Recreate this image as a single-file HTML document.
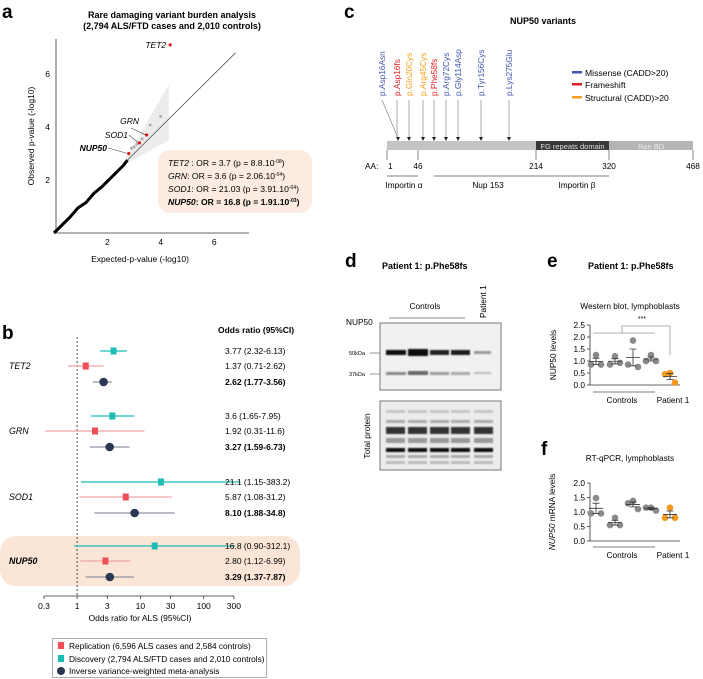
<!DOCTYPE html>
<html><head><meta charset="utf-8">
<style>
html,body{margin:0;padding:0;background:#fff;}
svg{display:block;font-family:"Liberation Sans",Arial,sans-serif;}
</style></head>
<body>
<svg id="fig" width="703" height="679" viewBox="0 0 703 679" xmlns="http://www.w3.org/2000/svg">
<!-- Panel a static -->
<text x="2" y="18" font-size="19" font-weight="bold">a</text>
<text x="172" y="18" font-size="9" font-weight="bold" text-anchor="middle">Rare damaging variant burden analysis</text>
<text x="172" y="29" font-size="9" font-weight="bold" text-anchor="middle">(2,794 ALS/FTD cases and 2,010 controls)</text>
<g id="qq"></g>
<rect x="158" y="150" width="154" height="63" rx="12" fill="#fbebe0"/>
<g font-size="8.6">
<text x="168" y="166"><tspan font-style="italic">TET2</tspan> : OR = 3.7 (p = 8.8.10<tspan font-size="5" dy="-3">-08</tspan><tspan dy="3">)</tspan></text>
<text x="168" y="179"><tspan font-style="italic">GRN</tspan>: OR = 3.6 (p = 2.06.10<tspan font-size="5" dy="-3">-04</tspan><tspan dy="3">)</tspan></text>
<text x="168" y="192"><tspan font-style="italic">SOD1</tspan>: OR = 21.03 (p = 3.91.10<tspan font-size="5" dy="-3">-04</tspan><tspan dy="3">)</tspan></text>
<text x="168" y="205" font-weight="bold"><tspan font-style="italic">NUP50</tspan>: OR = 16.8 (p = 1.91.10<tspan font-size="5" dy="-3">-03</tspan><tspan dy="3">)</tspan></text>
</g>
<text x="140" y="262" font-size="8.5" text-anchor="middle">Expected-p-value (-log10)</text>
<text transform="translate(34,136) rotate(-90)" font-size="8.5" text-anchor="middle">Observed p-value (-log10)</text>

<!-- Panel b -->
<text x="2" y="339" font-size="19" font-weight="bold">b</text>
<rect x="0" y="536" width="300" height="50" rx="16" fill="#fbe5d6"/>
<text x="218" y="333" font-size="8.5" font-weight="bold">Odds ratio (95%CI)</text>
<g id="forest"></g>
<text x="140" y="621" font-size="8.5" text-anchor="middle">Odds ratio for ALS (95%CI)</text>
<g>
<rect x="52.5" y="638.5" width="214" height="39" fill="#fff" stroke="#999" stroke-width="0.8"/>
<rect x="58" y="642" width="6" height="7" fill="#f04e57"/>
<text x="69" y="649" font-size="8.3">Replication (6,596 ALS cases and 2,584 controls)</text>
<rect x="58" y="655" width="6" height="7" fill="#1bbdb6"/>
<text x="69" y="662" font-size="8.3">Discovery (2,794 ALS/FTD cases and 2,010 controls)</text>
<circle cx="61" cy="671" r="4" fill="#2b3853"/>
<text x="69" y="674" font-size="8.3">Inverse variance-weighted meta-analysis</text>
</g>

<!-- Panel c -->
<text x="344" y="18" font-size="19" font-weight="bold">c</text>
<text x="543" y="24" font-size="9" font-weight="bold" text-anchor="middle">NUP50 variants</text>
<g id="lollipop"></g>
<g font-size="8.6">
<rect x="572" y="71" width="10" height="2.5" fill="#4256b0"/><text x="585" y="76">Missense (CADD&gt;20)</text>
<rect x="572" y="83" width="10" height="2.5" fill="#e02020"/><text x="585" y="88">Frameshift</text>
<rect x="572" y="96" width="10" height="2.5" fill="#f5a01a"/><text x="585" y="101">Structural (CADD)&gt;20</text>
</g>

<!-- Panel d -->
<text x="345" y="267" font-size="19" font-weight="bold">d</text>
<text x="382" y="269" font-size="9" font-weight="bold">Patient 1: p.Phe58fs</text>
<text x="425" y="309" font-size="8.3" text-anchor="middle">Controls</text>
<line x1="389" y1="318" x2="465" y2="318" stroke="#888" stroke-width="1"/>
<text transform="translate(486,318) rotate(-90)" font-size="8.3">Patient 1</text>
<text x="346" y="325" font-size="8.3">NUP50</text>
<text x="349" y="355" font-size="5.5">50kDa</text>
<text x="349" y="376" font-size="5.5">37kDa</text>
<line x1="370" y1="353" x2="380" y2="353" stroke="#555" stroke-width="0.6"/>
<line x1="370" y1="374" x2="380" y2="374" stroke="#555" stroke-width="0.6"/>
<defs>
<filter id="blur1"><feGaussianBlur stdDeviation="0.9"/></filter>
</defs>
<g>
<rect x="380" y="323" width="121" height="67" fill="#f1f1f1" stroke="#777" stroke-width="1"/>
<g filter="url(#blur1)">
<rect x="386" y="350" width="20" height="5" fill="#111"/>
<rect x="408" y="349" width="20" height="7" fill="#0a0a0a"/>
<rect x="430" y="350" width="19" height="5" fill="#222"/>
<rect x="451" y="350" width="19" height="5" fill="#1a1a1a"/>
<rect x="474" y="351" width="17" height="3" fill="#999"/>
<rect x="386" y="372" width="20" height="3" fill="#888"/>
<rect x="408" y="371" width="20" height="4" fill="#666"/>
<rect x="430" y="372" width="19" height="3" fill="#999"/>
<rect x="451" y="372" width="19" height="3" fill="#aaa"/>
<rect x="474" y="372" width="17" height="2" fill="#bbb"/>
</g>
</g>
<g>
<rect x="380" y="401" width="121" height="69" fill="#ececec" stroke="#777" stroke-width="1"/>
<g filter="url(#blur1)" id="tp"></g>
</g>
<text transform="translate(370,436) rotate(-90)" font-size="8.3" text-anchor="middle">Total protein</text>

<!-- Panel e, f -->
<text x="547" y="267" font-size="19" font-weight="bold">e</text>
<text x="588" y="269" font-size="9" font-weight="bold">Patient 1: p.Phe58fs</text>
<text x="630" y="309" font-size="8.3" text-anchor="middle">Western blot, lymphoblasts</text>
<text x="541" y="455" font-size="19" font-weight="bold">f</text>
<text x="630" y="461" font-size="8.3" text-anchor="middle">RT-qPCR, lymphoblasts</text>
<g id="dotE"></g>
<g id="dotF"></g>
<g stroke="#999" stroke-width="0.8" fill="none">
<polyline points="593,333 655,333"/>
<polyline points="622,333 622,326 670,326 670,355"/>
</g>
<text x="642" y="321" font-size="7" text-anchor="middle">***</text>
<text transform="translate(556,355) rotate(-90)" font-size="8.3" text-anchor="middle">NUP50 levels</text>
<text transform="translate(555,512) rotate(-90)" font-size="8.3" text-anchor="middle"><tspan font-style="italic">NUP50</tspan> mRNA levels</text>
</svg>

<script>
var NS = "http://www.w3.org/2000/svg";
function mk(parent, tag, attrs, txt) {
  var e = document.createElementNS(NS, tag);
  for (var k in attrs) e.setAttribute(k, attrs[k]);
  if (txt !== undefined) e.textContent = txt;
  parent.appendChild(e);
  return e;
}

/* total protein lanes (decorative) */
(function () {
  var g = document.getElementById("tp");
  var lanes = [386, 408, 430, 451, 474];
  var bands = [[410, 3, "#c4c4c4"], [420, 3, "#aaa"], [427, 7, "#333"], [438, 5, "#999"], [448, 4, "#111"], [455, 3, "#aaa"], [461, 3, "#bbb"]];
  lanes.forEach(function (x) {
    bands.forEach(function (b) {
      var r = mk(g, "rect", { x: x, y: b[0], width: 19, height: b[1], fill: b[2] });
      
      
    });
  });
})();

/* ---------- Panel a data ---------- */
var qqTicks = [2, 4, 6];
var qqTrailExp = [0, 0.3, 0.6, 0.9, 1.2, 1.5, 1.8, 2.1, 2.4, 2.6, 2.75];
var qqTrailObs = [0, 0.3, 0.6, 0.95, 1.15, 1.5, 1.75, 2.05, 2.35, 2.55, 2.75];
var qqGreyExp = [2.9, 3.0, 3.1, 3.3, 3.6, 3.99];
var qqGreyObs = [3.2, 3.25, 3.35, 3.55, 4.07, 4.4];
var qqGenes = ["TET2", "GRN", "SOD1", "NUP50"];
var qqGeneExp = [4.35, 3.47, 3.2, 2.8];
var qqGeneObs = [7.1, 3.7, 3.4, 3.0];

function qx(v) { return 54 + v * 26.7; }
function qy(v) { return 233 - v * 26.5; }
(function () {
  var g = document.getElementById("qq");
  var band = mk(g, "polygon", { points: qx(2.5)+","+qy(2.5)+" "+qx(4.3)+","+qy(5.6)+" "+qx(4.3)+","+qy(3.5), fill: "#ececec" });
  
  
  var diag = mk(g, "line", { x1: qx(0), y1: qy(0), x2: qx(6.8), y2: qy(6.8), stroke: "#555", "stroke-width": 0.8 });
  
  
  var ax = mk(g, "path", { d: "M56,39V233H249", stroke: "#333", fill: "none", "stroke-width": 0.8 });
  
  
  qqTicks.forEach(function (t) {
    var tx = mk(g, "text", { x: qx(t), y: 245, "font-size": 8.5, "text-anchor": "middle" }, t);
    
    
    var ty = mk(g, "text", { x: 50, y: qy(t) + 3, "font-size": 8.5, "text-anchor": "end" }, t);
    
    
  });
  var pts = qqTrailExp.map(function (v, i) { return qx(v) + "," + qy(qqTrailObs[i]); }).join(" ");
  var trail = mk(g, "polyline", { points: pts, stroke: "#000", "stroke-width": 3, fill: "none" });
  
  
  qqGreyExp.forEach(function (v, i) {
    var c = mk(g, "circle", { cx: qx(v), cy: qy(qqGreyObs[i]), r: 1.4, fill: "#aaa" });
    
    
  });
  var labelPos = [[null], [139, 124], [128, 138], [107, 151]];
  qqGenes.forEach(function (n, i) {
    var cx = qx(qqGeneExp[i]), cy = qy(qqGeneObs[i]);
    var c = mk(g, "circle", { cx: cx, cy: cy, r: 1.6, fill: "#e01a1a" });
    
    
    var t;
    if (i === 0) {
      t = mk(g, "text", { x: cx - 4, y: cy + 3, "font-size": 8.5, "font-style": "italic", "text-anchor": "end" }, n);
    } else {
      var lp = labelPos[i];
      t = mk(g, "text", { x: lp[0], y: lp[1], "font-size": 8.5, "font-style": "italic", "font-weight": i === 3 ? "bold" : "normal", "text-anchor": "end" }, n);
      var l = mk(g, "line", { x1: lp[0] + (i === 1 ? -8 : 1), y1: lp[1] + (i === 1 ? 4 : -3), x2: cx - 1, y2: cy, stroke: "#444", "stroke-width": 0.6 });
      
      
    }
    
    
  });
})();

/* ---------- Panel b data ---------- */
var forestGenes = ["TET2", "GRN", "SOD1", "NUP50"];
var discOR = [3.77, 3.6, 21.1, 16.8];
var discLo = [2.32, 1.65, 1.15, 0.90];
var discHi = [6.13, 7.95, 383.2, 312.1];
var repOR = [1.37, 1.92, 5.87, 2.80];
var repLo = [0.71, 0.31, 1.08, 1.12];
var repHi = [2.62, 11.6, 31.2, 6.99];
var metaOR = [2.62, 3.27, 8.10, 3.29];
var metaLo = [1.77, 1.59, 1.88, 1.37];
var metaHi = [3.56, 6.73, 34.8, 7.87];
var discLabels = ["3.77 (2.32-6.13)", "3.6 (1.65-7.95)", "21.1 (1.15-383.2)", "16.8 (0.90-312.1)"];
var repLabels = ["1.37 (0.71-2.62)", "1.92 (0.31-11.6)", "5.87 (1.08-31.2)", "2.80 (1.12-6.99)"];
var metaLabels = ["2.62 (1.77-3.56)", "3.27 (1.59-6.73)", "8.10 (1.88-34.8)", "3.29 (1.37-7.87)"];
var forestTicks = [0.3, 1, 3, 10, 30, 100, 300];

function fx(v) { return 44 + (Math.log10(v) - Math.log10(0.3)) * 63.3; }
(function () {
  var g = document.getElementById("forest");
  var rowTop = [351, 416, 482, 546];
  var dash = mk(g, "line", { x1: fx(1), y1: 337, x2: fx(1), y2: 596, stroke: "#222", "stroke-width": 0.8, "stroke-dasharray": "2,2" });
  
  
  var ax = mk(g, "line", { x1: fx(0.3), y1: 596, x2: fx(300), y2: 596, stroke: "#333", "stroke-width": 0.8 });
  
  
  forestTicks.forEach(function (t) {
    var tk = mk(g, "line", { x1: fx(t), y1: 596, x2: fx(t), y2: 599, stroke: "#333", "stroke-width": 0.8 });
    
    
    var tl = mk(g, "text", { x: fx(t), y: 609, "font-size": 8.5, "text-anchor": "middle" }, t);
    
    
  });
  forestGenes.forEach(function (n, i) {
    var y0 = rowTop[i], y1 = y0 + 15, y2 = y0 + 31;
    var gl = mk(g, "text", { x: 9, y: y1 + 3, "font-size": 8.8, "font-style": "italic", "font-weight": n === "NUP50" ? "bold" : "normal" }, n);
    
    
    var l1 = mk(g, "line", { x1: fx(discLo[i]), y1: y0, x2: fx(discHi[i]), y2: y0, stroke: "#1bbdb6", "stroke-width": 1.3 });
    
    
    var m1 = mk(g, "rect", { x: fx(discOR[i]) - 3, y: y0 - 3.5, width: 6, height: 7, fill: "#1bbdb6" });
    
    
    var l2 = mk(g, "line", { x1: fx(repLo[i]), y1: y1, x2: fx(repHi[i]), y2: y1, stroke: "#f5a3a7", "stroke-width": 1.3 });
    
    
    var m2 = mk(g, "rect", { x: fx(repOR[i]) - 3, y: y1 - 3.5, width: 6, height: 7, fill: "#f04e57" });
    
    
    var l3 = mk(g, "line", { x1: fx(metaLo[i]), y1: y2, x2: fx(metaHi[i]), y2: y2, stroke: "#8f95a3", "stroke-width": 1.3 });
    
    
    var m3 = mk(g, "circle", { cx: fx(metaOR[i]), cy: y2, r: 4.3, fill: "#2b3853" });
    
    
    var t1 = mk(g, "text", { x: 225, y: y0 + 3, "font-size": 8.5 }, discLabels[i]);
    
    
    var t2 = mk(g, "text", { x: 225, y: y1 + 3, "font-size": 8.5 }, repLabels[i]);
    
    
    var t3 = mk(g, "text", { x: 225, y: y2 + 3, "font-size": 8.5, "font-weight": "bold" }, metaLabels[i]);
    
    
  });
})();

/* ---------- Panel c data ---------- */
var aaTicks = [1, 46, 214, 320, 468];
var variantNames = ["p.Asp16Asn", "p.Asp16fs", "p.Gln20Cys", "p.Arg45Cys", "p.Phe58fs", "p.Arg72Cys", "p.Gly114Asp", "p.Tyr156Cys", "p.Lys275Glu"];
var variantAA = [16, 16, 20, 45, 58, 72, 114, 156, 275];
var variantType = ["missense", "frameshift", "structural", "structural", "frameshift", "missense", "missense", "missense", "missense"];

var aaPix = [387, 418, 536, 609, 693];
function ax_(aa) {
  for (var i = 0; i < aaTicks.length - 1; i++) {
    if (aa <= aaTicks[i + 1]) {
      return aaPix[i] + (aa - aaTicks[i]) / (aaTicks[i + 1] - aaTicks[i]) * (aaPix[i + 1] - aaPix[i]);
    }
  }
  return aaPix[aaPix.length - 1];
}
(function () {
  var g = document.getElementById("lollipop");
  var col = { missense: "#4256b0", frameshift: "#e02020", structural: "#f5a01a" };
  var bar = mk(g, "rect", { x: ax_(1), y: 141, width: ax_(468) - ax_(1), height: 9, fill: "#c4c4c4" });
  
  
  var fg = mk(g, "rect", { x: ax_(214), y: 141, width: ax_(320) - ax_(214), height: 9, fill: "#3a3a3a" });
  
  
  var ft = mk(g, "text", { x: (ax_(214) + ax_(320)) / 2, y: 149, "font-size": 7.5, fill: "#ddd", "text-anchor": "middle" }, "FG repeats domain");
  
  
  var rb = mk(g, "rect", { x: ax_(320), y: 141, width: ax_(468) - ax_(320), height: 9, fill: "#b5b5b5" });
  
  
  var rt = mk(g, "text", { x: (ax_(320) + ax_(468)) / 2, y: 149, "font-size": 7.5, fill: "#eee", "text-anchor": "middle" }, "Ran BD");
  
  
  var aal = mk(g, "text", { x: 365, y: 169, "font-size": 8.3 }, "AA:");
  
  
  aaTicks.forEach(function (a) {
    var tk = mk(g, "line", { x1: ax_(a), y1: 150, x2: ax_(a), y2: 160, stroke: "#555", "stroke-width": 0.7 });
    
    
    var tl = mk(g, "text", { x: ax_(a) + (a === 1 ? 1 : 0), y: 169, "font-size": 8.3, "text-anchor": a === 1 ? "start" : "middle" }, a);
    
    
  });
  var segs = [[387, 418, "Importin α", 404], [434, 536, "Nup 153", 488], [536, 609, "Importin β", 577]];
  segs.forEach(function (s) {
    var l = mk(g, "line", { x1: s[0], y1: 176, x2: s[1], y2: 176, stroke: "#555", "stroke-width": 0.7 });
    
    
    var t = mk(g, "text", { x: s[3], y: 188, "font-size": 8.3, "text-anchor": "middle" }, s[2]);
    
    
  });
  /* schematic: label columns evenly stacked; arrows drop straight down except duplicated positions */
  var labX = [382, 397, 409, 423, 434, 446, 458, 481, 509];
  var seen = {};
  variantNames.forEach(function (n, i) {
    var lx = labX[i];
    var px = lx;
    var firstIdx = variantAA.indexOf(variantAA[i]);
    if (firstIdx !== i) px = labX[i];
    else if (variantAA.lastIndexOf(variantAA[i]) !== i) px = labX[variantAA.lastIndexOf(variantAA[i])] + 1;
    var t = mk(g, "text", { transform: "translate(" + (lx + 3) + ",96) rotate(-90)", "font-size": 8.3, fill: col[variantType[i]] }, n);
    
    
    var ln = mk(g, "line", { x1: lx, y1: 100, x2: px, y2: 138, stroke: "#777", "stroke-width": 0.6 });
    
    
    if (!seen[variantAA[i]]) {
      seen[variantAA[i]] = 1;
      var h = mk(g, "polygon", { points: (px - 2) + ",137 " + (px + 2) + ",137 " + px + ",141", fill: "#222" });
      
      
    }
  });
})();

/* ---------- Panel e/f data ---------- */
var groupNames = ["Control 1", "Control 2", "Control 3", "Control 4", "Patient 1"];
var wbValues = [[1.25, 0.85, 0.85], [1.2, 0.85, 0.92], [1.85, 0.85, 0.75], [1.25, 1.0, 1.0], [0.5, 0.45, 0.1]];
var qpcrValues = [[1.48, 0.95, 0.95], [0.8, 0.55, 0.55], [1.38, 1.3, 1.1], [1.15, 1.15, 1.05], [1.15, 0.8, 0.8]];
var wbTicks = [0.0, 0.5, 1.0, 1.5, 2.0, 2.5];
var qpcrTicks = [0.0, 0.5, 1.0, 1.5, 2.0];

var groupX = [596, 615, 633, 651, 670];
function dotPlot(id, vals, ticks, y0, pxPerUnit, ctlY, name) {
  var g = document.getElementById(id);
  function yv(v) { return y0 - v * pxPerUnit; }
  var top = ticks[ticks.length - 1];
  var axl = mk(g, "path", { d: "M590," + yv(top) + "V" + y0 + "H680", stroke: "#333", fill: "none", "stroke-width": 0.8 });
  
  
  ticks.forEach(function (t) {
    var tk = mk(g, "line", { x1: 587, y1: yv(t), x2: 590, y2: yv(t), stroke: "#333", "stroke-width": 0.8 });
    
    
    var tl = mk(g, "text", { x: 585, y: yv(t) + 3, "font-size": 8.3, "text-anchor": "end" }, t.toFixed(1));
    
    
  });
  vals.forEach(function (arr, gi) {
    var cx = groupX[gi];
    var fill = gi === 4 ? "#f39a1e" : "#8a8a8a";
    var mean = arr.reduce(function (a, b) { return a + b; }, 0) / arr.length;
    var sd = Math.sqrt(arr.reduce(function (a, b) { return a + (b - mean) * (b - mean); }, 0) / (arr.length - 1));
    var sem = sd / Math.sqrt(arr.length);
    var offs = [0, -5, 5];
    arr.forEach(function (v, k) {
      var c = mk(g, "circle", { cx: cx + offs[k], cy: yv(v), r: 3.3, fill: fill });
      
      
    });
    var eb = mk(g, "path", { d: "M" + (cx - 7) + "," + yv(mean) + "H" + (cx + 7) + "M" + cx + "," + yv(mean + sem) + "V" + yv(mean - sem) + "M" + (cx - 3.5) + "," + yv(mean + sem) + "H" + (cx + 3.5) + "M" + (cx - 3.5) + "," + yv(mean - sem) + "H" + (cx + 3.5), stroke: "#333", "stroke-width": 0.8, fill: "none" });
    
    
  });
  var cl = mk(g, "line", { x1: 593, y1: ctlY, x2: 655, y2: ctlY, stroke: "#555", "stroke-width": 0.8 });
  
  
  var ct = mk(g, "text", { x: 622, y: ctlY + 11, "font-size": 8.3, "text-anchor": "middle" }, "Controls");
  
  
  var pt = mk(g, "text", { x: 673, y: ctlY + 11, "font-size": 8.3, "text-anchor": "middle" }, "Patient 1");
  
  
}
dotPlot("dotE", wbValues, wbTicks, 385, 24, 392, "wb");
dotPlot("dotF", qpcrValues, qpcrTicks, 541, 29, 547, "qpcr");
</script>
</body></html>
